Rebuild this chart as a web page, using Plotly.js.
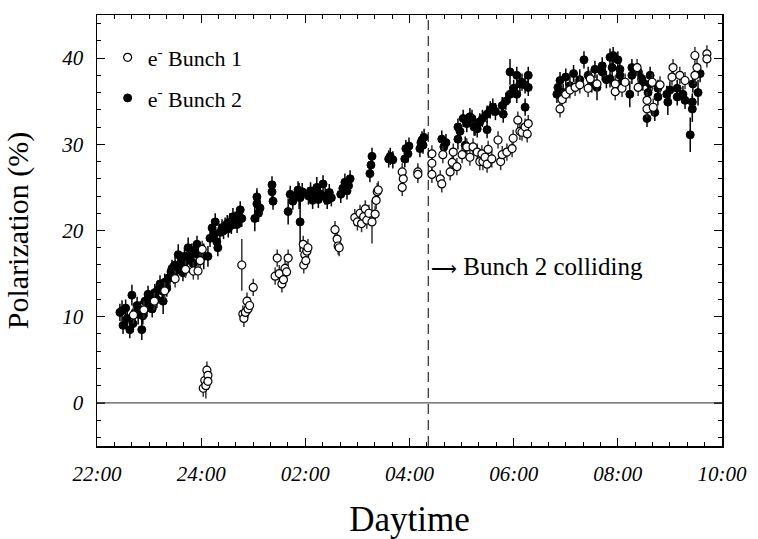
<!DOCTYPE html>
<html><head><meta charset="utf-8">
<script src="https://cdn.plot.ly/plotly-3.0.1.min.js"></script>
<style>html,body{margin:0;padding:0;background:#fff;}#chart{width:758px;height:539px;}</style>
</head><body><div id="chart"></div>
<script>
// Time in decimal hours (24 = midnight, 26 = 02:00 ...)
const tickVals = [22, 24, 26, 28, 30, 32, 34];
const tickText = ["22:00", "24:00", "02:00", "04:00", "06:00", "08:00", "10:00"];
const collideTime = 28.36;

// e- Bunch 2 (filled)
const b2Time = [22.44,22.48,22.50,22.55,22.58,22.63,22.67,22.69,22.73,22.77,22.79,22.83,22.86,22.88,22.92,22.96,22.98,23.02,23.06,23.08,23.11,23.15,23.18,23.21,23.25,23.27,23.30,23.34,23.37,23.40,23.42,23.44,23.48,23.50,23.53,23.56,23.59,23.62,23.65,23.68,23.72,23.75,23.79,23.82,23.85,23.89,23.92,23.94,24.05,24.13,24.17,24.21,24.24,24.27,24.30,24.32,24.36,24.40,24.43,24.46,24.50,24.52,24.55,24.58,24.61,24.65,24.69,24.72,24.75,24.78,
25.03,25.07,25.07,25.10,25.13,25.36,25.36,25.38,25.67,25.71,25.76,25.80,25.86,25.88,25.90,25.90,25.94,
26.06,26.10,26.14,26.18,26.22,26.25,26.29,26.34,26.38,26.42,26.46,26.50,26.68,26.72,26.76,26.80,26.83,26.86,
27.24,27.26,27.28,27.60,27.63,27.68,27.91,27.93,27.97,27.99,28.20,28.22,28.24,28.26,28.28,
28.62,28.66,28.70,28.93,28.93,28.97,29.03,29.07,29.10,29.16,29.20,29.24,29.26,29.30,29.35,29.40,29.49,29.49,29.55,29.60,29.65,29.78,29.80,29.85,29.93,29.93,30.00,30.06,30.06,30.12,30.16,30.22,30.22,30.28,30.28,
30.83,30.85,30.89,30.95,31.00,31.08,31.15,31.27,31.35,31.43,31.50,31.56,31.60,31.70,31.70,31.78,31.85,31.85,31.89,31.91,32.00,32.04,32.04,32.08,32.23,32.27,32.27,32.39,32.46,32.48,32.56,32.58,32.62,32.62,32.71,32.77,32.77,32.94,32.96,33.00,33.14,33.14,33.25,33.29,33.39,33.43,33.43,33.44,33.54,33.58];
const b2Pol = [10.5,10.7,9.0,11.0,9.8,8.5,12.5,9.2,10.5,11.3,10.3,10.8,8.5,10.1,11.8,11.0,12.6,11.5,10.9,12.2,12.8,12.0,13.2,13.8,13.0,11.8,14.0,13.3,14.5,14.5,15.2,15.6,14.8,16.0,15.4,17.2,15.9,16.5,15.1,17.0,16.5,18.0,16.8,17.5,16.2,17.8,18.4,17.2,17.0,17.0,19.1,20.3,19.5,21.0,18.7,18.0,19.8,20.3,20.0,20.5,20.8,20.2,21.0,20.6,21.6,21.2,20.7,21.8,22.4,21.4,
21.4,23.1,23.9,22.0,22.6,25.3,24.5,23.4,22.2,24.2,23.4,24.0,24.7,24.0,21.0,23.8,24.5,
24.0,24.6,23.5,24.3,25.0,23.6,24.2,25.4,24.0,23.5,24.4,23.8,24.2,24.9,25.6,24.6,25.2,26.0,
26.6,27.6,28.6,28.3,28.6,28.2,28.3,29.5,28.9,29.8,29.5,30.2,30.5,29.9,30.8,
30.6,29.7,30.2,32.0,30.6,31.5,33.0,29.9,32.4,33.2,33.0,32.0,32.0,31.8,32.6,33.0,33.5,31.7,34.0,34.3,33.8,34.5,33.5,35.0,38.4,35.8,36.5,38.0,35.8,37.0,37.2,36.9,34.3,38.0,36.6,
35.8,36.6,37.4,36.0,37.8,36.8,38.2,37.5,39.8,38.0,37.0,38.7,36.6,39.1,38.4,37.5,40.1,37.6,38.9,40.3,39.8,38.7,38.0,37.2,35.8,38.9,38.0,38.4,37.6,37.2,33.0,36.0,38.0,37.0,33.7,36.5,35.5,35.8,34.9,36.3,35.5,36.5,35.8,35.1,31.1,34.9,34.1,37.0,36.0,38.2];
const b2Err = [1.0,1.2,1.0,1.0,1.0,1.0,1.2,1.0,1.0,1.0,1.2,1.0,1.2,1.0,1.0,1.0,1.0,1.0,1.0,1.0,1.0,1.0,1.0,1.0,1.0,1.5,1.0,1.0,1.0,1.0,1.0,1.0,1.0,1.0,1.0,1.2,1.0,1.0,1.0,1.0,1.0,1.2,1.0,1.0,1.5,1.0,1.0,1.0,1.5,1.2,1.0,1.0,1.0,1.0,1.0,1.0,1.0,1.0,1.0,1.0,1.0,1.0,1.0,1.0,1.0,1.0,1.0,1.0,1.0,1.0,
1.5,1.5,1.0,1.0,1.0,1.0,1.0,1.0,1.5,1.0,1.0,1.0,1.0,1.5,3.5,1.0,1.0,
1.0,1.0,1.0,1.0,1.2,1.0,1.0,1.0,1.0,1.0,1.0,1.0,1.0,1.0,1.0,1.0,1.0,1.0,
1.0,1.2,1.0,1.0,1.0,1.0,1.0,1.0,1.0,1.0,1.0,1.0,1.0,1.0,1.0,
1.0,1.0,1.0,1.0,1.2,1.0,1.0,1.0,1.0,1.0,1.0,1.0,1.0,1.0,1.0,1.0,1.0,1.0,1.0,1.0,1.0,1.0,1.0,1.0,1.5,1.0,1.0,1.0,1.0,1.0,1.0,1.0,1.0,1.0,1.0,
1.0,1.0,1.0,1.0,1.0,1.0,1.0,1.2,1.0,1.0,1.0,1.0,1.5,1.0,1.0,1.0,1.0,1.0,1.0,1.0,1.0,1.0,1.0,1.0,1.5,1.0,1.0,1.0,1.0,1.0,1.0,1.0,1.0,1.0,1.0,1.0,1.0,1.0,1.5,1.0,1.0,1.0,1.0,1.0,2.0,1.0,1.5,1.0,1.5,1.0];

// e- Bunch 1 (open)
const b1Time = [22.70,22.90,23.10,23.30,23.50,23.70,23.85,23.94,23.98,24.02,
24.04,24.07,24.09,24.11,24.13,24.13,
24.78,24.80,24.82,24.85,24.88,24.90,24.93,25.00,
25.42,25.46,25.50,25.55,25.58,25.61,25.64,25.67,
25.96,25.97,25.99,26.01,26.03,26.05,
26.57,26.61,26.63,26.65,
26.95,27.00,27.05,27.08,27.12,27.15,27.18,27.22,27.28,27.34,27.38,27.40,27.36,
27.86,27.88,27.86,28.16,28.16,
28.43,28.43,28.43,28.59,28.62,28.64,28.78,28.82,28.84,28.91,29.01,29.10,29.16,29.22,29.30,29.35,29.39,29.41,29.45,29.49,29.51,29.58,29.70,29.75,29.78,29.87,29.97,29.99,30.08,30.12,30.16,30.22,30.26,30.28,
30.89,30.93,31.00,31.08,31.18,31.27,31.43,31.47,31.60,31.95,31.95,32.08,32.14,32.37,32.39,32.56,32.56,32.66,32.68,32.81,33.06,33.04,33.19,33.29,33.48,33.52,33.48,33.71,33.71];
const b1Pol = [10.2,10.8,11.8,13.0,14.4,15.5,15.3,15.3,16.5,17.8,
1.7,2.6,2.0,3.8,3.2,2.5,
16.0,10.3,9.8,10.5,11.8,10.9,11.3,13.4,
14.7,16.8,15.0,13.8,14.3,15.6,15.2,16.8,
18.4,16.0,17.2,16.5,17.6,18.0,
20.1,19.0,18.2,18.0,
21.5,21.0,22.0,20.8,21.6,22.5,21.2,22.0,21.0,21.9,24.5,24.7,23.5,
26.8,26.0,25.0,26.8,26.5,
28.9,27.8,26.5,26.0,25.4,28.8,26.8,27.9,29.1,27.4,28.8,29.7,28.5,29.7,29.1,28.0,28.9,28.0,28.5,27.7,29.4,28.3,30.5,28.0,28.8,29.1,29.5,30.7,32.8,31.5,31.4,32.0,31.2,32.4,
34.1,35.2,35.8,36.3,36.6,36.9,36.5,37.6,37.0,37.0,36.1,36.5,37.2,38.9,36.6,35.1,34.1,37.2,34.3,36.9,38.9,37.8,38.0,37.4,40.3,38.9,38.0,40.5,39.9];
const b1Err = [1.0,1.0,1.0,1.0,1.0,1.0,1.0,1.0,1.0,1.0,
1.0,1.0,1.5,1.0,1.0,1.0,
3.0,1.0,1.0,1.0,1.0,1.0,1.0,1.0,
1.0,1.0,1.0,1.0,1.0,1.0,1.0,1.0,
1.0,1.0,1.0,1.0,1.0,1.0,
1.0,1.0,1.0,1.0,
1.0,1.0,1.0,1.0,1.0,1.0,1.0,1.0,2.5,1.0,1.0,1.0,1.0,
1.0,1.0,1.0,1.0,1.0,
1.0,1.0,1.0,1.0,1.0,1.0,1.0,1.0,1.0,1.0,1.0,1.0,1.0,1.0,1.0,1.0,1.0,1.0,1.0,1.0,1.0,1.0,1.0,1.0,1.0,1.0,1.0,1.0,1.0,1.0,1.0,1.0,1.0,1.0,
1.0,1.0,1.0,1.0,1.0,1.0,1.0,1.0,1.0,1.0,1.0,1.0,1.0,1.0,1.0,1.0,1.0,1.0,1.0,1.0,1.0,1.0,1.0,1.0,1.0,1.0,1.0,1.0,1.0];

const serif = "Liberation Serif, Times New Roman, serif";

const bunch1 = {
  x: b1Time, y: b1Pol, type: "scatter", mode: "markers", name: "e<sup>-</sup> Bunch 1",
  legendgroup: "g1", legendrank: 1,
  error_y: {type: "data", array: b1Err, visible: true, color: "#333", thickness: 1.5, width: 0},
  marker: {symbol: "circle", size: 8, color: "#fff", line: {color: "#000", width: 1.2}}
};
const bunch2 = {
  x: b2Time, y: b2Pol, type: "scatter", mode: "markers", name: "e<sup>-</sup> Bunch 2",
  legendgroup: "g2", legendrank: 2,
  error_y: {type: "data", array: b2Err, visible: true, color: "#000", thickness: 1.5, width: 0},
  marker: {symbol: "circle", size: 8, color: "#000", line: {color: "#000", width: 1}}
};
// filled drawn first so the open circles sit on top
const data = [bunch2, bunch1];

const axisCommon = {
  showline: true, linecolor: "#000", linewidth: 1.5, mirror: "allticks",
  ticks: "inside", ticklen: 8, tickwidth: 1.2, tickcolor: "#000",
  showgrid: false, zeroline: false, ticklabelstandoff: 8,
  tickfont: {family: serif, size: 21, color: "#000", style: "italic"}
};

const layout = {
  width: 758, height: 539,
  margin: {l: 97, r: 36, t: 15, b: 93},
  paper_bgcolor: "#fff", plot_bgcolor: "#fff",
  showlegend: true,
  legend: {x: 0.017, y: 0.95, xanchor: "left", yanchor: "top", bgcolor: "rgba(0,0,0,0)",
           font: {family: serif, size: 22, color: "#000"}, traceorder: "grouped", tracegroupgap: 9},
  xaxis: Object.assign({}, axisCommon, {
    range: [22, 34], tickmode: "array", tickvals: tickVals, ticktext: tickText,
    minor: {tickmode: "linear", tick0: 22, dtick: 1/3, ticks: "inside", ticklen: 4, tickcolor: "#000", tickwidth: 1},
    title: {text: "Daytime", font: {family: serif, size: 35, color: "#000"}, standoff: 22}
  }),
  yaxis: Object.assign({}, axisCommon, {
    range: [-5, 45], tickmode: "linear", tick0: 0, dtick: 10,
    minor: {tickmode: "linear", tick0: 0, dtick: 2, ticks: "inside", ticklen: 4, tickcolor: "#000", tickwidth: 1},
    title: {text: "Polarization (%)", font: {family: serif, size: 30, color: "#000"}, standoff: 24}
  }),
  shapes: [
    {type: "line", xref: "paper", x0: 0, x1: 1, yref: "y", y0: 0, y1: 0, line: {color: "#555", width: 1.2}},
    {type: "line", xref: "x", x0: collideTime, x1: collideTime, yref: "paper", y0: 0, y1: 1, line: {color: "#000", width: 1, dash: "10px,6px"}}
  ],
  annotations: [
    {x: collideTime, y: 15.8, xref: "x", yref: "y", xanchor: "left", yanchor: "middle", xshift: 1,
     text: "<span style='font-size:18px'>⟶</span> Bunch 2 colliding", showarrow: false,
     font: {family: serif, size: 25, color: "#000"}}
  ]
};

Plotly.newPlot("chart", data, layout, {displayModeBar: false, staticPlot: true});
</script>
</body></html>
